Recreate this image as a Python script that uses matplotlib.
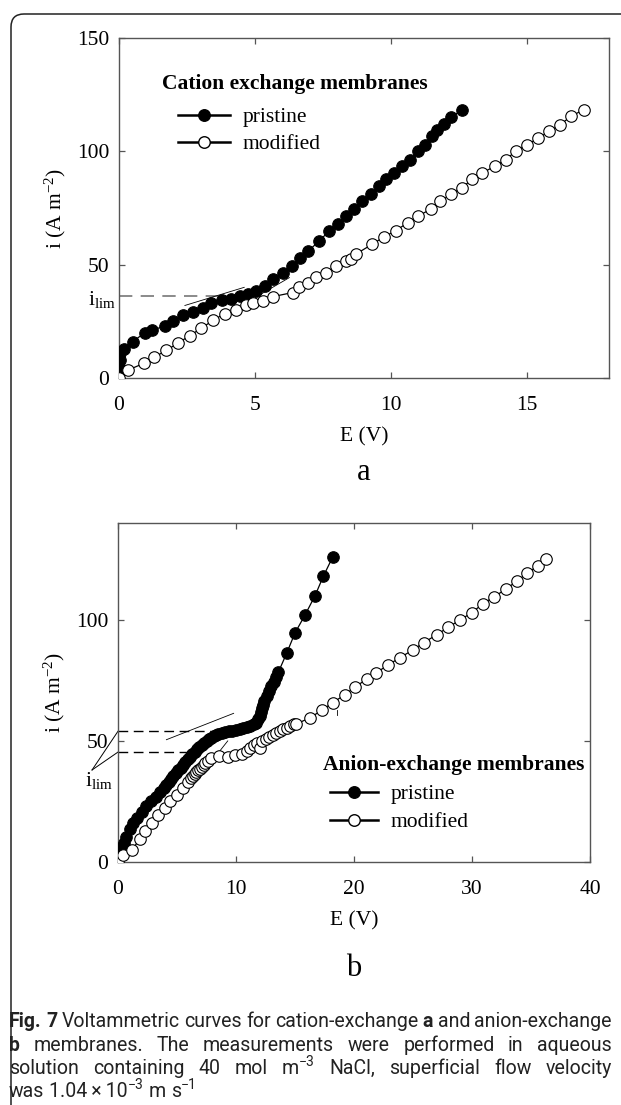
import matplotlib
matplotlib.use("Agg")
import matplotlib.pyplot as plt
from matplotlib.lines import Line2D
from matplotlib.patches import FancyBboxPatch
from matplotlib.transforms import IdentityTransform, blended_transform_factory

plt.rcParams['font.family'] = ['Liberation Serif', 'DejaVu Serif']
plt.rcParams['mathtext.fontset'] = 'custom'
plt.rcParams['mathtext.rm'] = 'Liberation Serif'
plt.rcParams['mathtext.it'] = 'Liberation Serif:italic'
plt.rcParams['mathtext.bf'] = 'Liberation Serif:bold'

# ---------------- data (panel a: cation exchange membranes) ----------------
cat_pristine_E = [0.0, 0.0, 0.02, 0.05, 0.2, 0.5, 0.95, 1.2, 1.7, 1.97, 2.35, 2.7, 3.08, 3.38,
                  3.77, 4.13, 4.43, 4.74, 5.05, 5.36, 5.67, 6.03, 6.34, 6.64, 6.95, 7.36, 7.73,
                  8.04, 8.35, 8.65, 8.94, 9.25, 9.55, 9.8, 10.1, 10.4, 10.7, 11.0, 11.25, 11.5,
                  11.7, 11.95, 12.2, 12.6]
cat_pristine_i = [2.0, 5.0, 8.0, 11.0, 13.0, 16.0, 20.0, 21.0, 23.0, 25.0, 27.6, 29.0, 31.0, 33.0,
                  34.2, 35.0, 36.0, 37.2, 38.6, 40.8, 43.8, 46.5, 49.5, 53.0, 56.0, 60.5, 65.0,
                  68.0, 71.5, 74.5, 78.0, 81.0, 84.6, 87.7, 90.5, 93.4, 96.3, 100.0, 103.0, 106.6,
                  109.6, 112.0, 115.0, 118.4]
cat_modified_E = [0.0, 0.33, 0.9, 1.3, 1.74, 2.17, 2.6, 3.03, 3.45, 3.88, 4.31, 4.68, 4.93, 5.28,
                  5.65, 6.38, 6.62, 6.93, 7.24, 7.6, 7.97, 8.35, 8.53, 8.72, 9.3, 9.74, 10.17,
                  10.6, 11.0, 11.45, 11.8, 12.2, 12.6, 12.97, 13.35, 13.8, 14.2, 14.57, 15.0,
                  15.4, 15.8, 16.2, 16.6, 17.07]
cat_modified_i = [0.0, 3.5, 6.4, 9.2, 12.2, 15.4, 18.7, 22.0, 25.4, 28.4, 29.8, 32.0, 33.0, 33.8,
                  35.9, 37.7, 40.0, 42.0, 44.4, 46.5, 49.5, 51.7, 52.7, 54.8, 59.0, 62.3, 65.0,
                  68.5, 71.5, 74.5, 78.0, 81.0, 84.0, 87.6, 90.5, 93.4, 96.3, 100.0, 103.0,
                  105.8, 108.8, 111.7, 115.4, 118.4]
cat_ilim = [36.1]

# ---------------- data (panel b: anion exchange membranes) ----------------
an_pristine_E = [0.0, 0.15, 0.3, 0.5, 0.7, 1.0, 1.3, 1.6, 2.0, 2.4, 2.8, 3.2, 3.6, 3.9, 4.1, 4.3,
                 4.5, 4.7, 4.9, 5.1, 5.3, 5.5, 5.7, 5.9, 6.1, 6.3, 6.5, 6.7, 6.9, 7.1, 7.3, 7.5,
                 7.7, 7.9, 8.1, 8.3, 8.5, 8.8, 9.1, 9.4, 9.7, 10.0, 10.3, 10.6, 10.9, 11.2, 11.5,
                 11.7, 11.9, 12.0, 12.1, 12.2, 12.3, 12.4, 12.6, 12.8, 13.0, 13.2, 13.4, 13.6,
                 14.3, 15.0, 15.85, 16.7, 17.4, 18.2]
an_pristine_i = [2.0, 4.0, 6.0, 8.0, 10.5, 13.5, 16.0, 18.0, 20.5, 23.0, 25.0, 27.0, 29.0, 30.5,
                 31.8, 33.0, 34.3, 35.5, 36.7, 37.8, 39.0, 40.2, 41.3, 42.4, 43.5, 44.5, 45.5,
                 46.5, 47.4, 48.3, 49.1, 49.9, 50.6, 51.3, 52.0, 52.4, 52.8, 53.2, 53.6, 54.0,
                 54.3, 54.7, 55.0, 55.4, 55.8, 56.3, 57.0, 57.6, 59.0, 60.5, 62.0, 63.5, 65.0,
                 66.5, 68.5, 70.5, 72.5, 74.5, 76.5, 78.5, 86.3, 94.6, 102.0, 110.0, 118.0, 126.0]
an_modified_E = [0.0, 0.45, 1.16, 1.86, 2.29, 2.85, 3.4, 3.97, 4.4, 4.97, 5.5, 5.9, 6.2, 6.35,
                 6.5, 6.65, 6.8, 6.95, 7.1, 7.25, 7.4, 7.6, 7.9, 8.6, 9.3, 9.9, 10.5, 10.9, 11.2,
                 11.5, 11.8, 12.0, 12.2, 12.5, 12.8, 13.1, 13.4, 13.7, 14.0, 14.3, 14.6, 14.9,
                 15.1, 16.3, 17.3, 18.2, 19.2, 20.1, 21.1, 21.9, 22.9, 23.9, 25.0, 25.9, 27.0,
                 28.0, 29.0, 30.0, 30.9, 31.9, 32.9, 33.8, 34.7, 35.6, 36.3]
an_modified_i = [0.5, 2.9, 5.0, 9.4, 12.9, 16.2, 19.4, 22.3, 25.0, 27.6, 30.7, 33.2, 34.6, 35.4,
                 36.2, 37.0, 37.8, 38.6, 39.4, 40.2, 41.0, 41.8, 42.8, 43.6, 43.4, 44.0, 44.8,
                 46.0, 47.2, 48.3, 49.0, 47.2, 50.0, 50.8, 51.6, 52.4, 53.2, 54.0, 54.8, 55.5,
                 56.2, 56.8, 57.0, 59.6, 62.8, 65.8, 69.0, 72.3, 75.6, 78.2, 81.4, 84.4, 87.6,
                 90.6, 93.8, 97.0, 100.0, 103.0, 106.6, 109.6, 112.8, 116.0, 119.4, 122.3, 125.2]
an_ilim = [54.0, 45.4]

series_labels = ['pristine', 'modified']
xticks_a = [0, 5, 10, 15]
yticks_a = [0, 50, 100, 150]
xticks_b = [0, 10, 20, 30, 40]
yticks_b = [0, 50, 100]

# ---------------- figure ----------------
W, H = 621, 1105
fig = plt.figure(figsize=(W / 100, H / 100), dpi=100)


def px_axes(l, t, r, b):
    return fig.add_axes([l / W, 1 - b / H, (r - l) / W, (b - t) / H])


ax1 = px_axes(119, 38, 609, 378)
ax2 = px_axes(118, 523, 590, 862)

FS = 15.5
SPINE = '#555555'
MS = 8.3


def style(ax):
    for s in ax.spines.values():
        s.set_color(SPINE)
        s.set_linewidth(1.0)
    ax.tick_params(direction='in', top=True, right=True, length=4, width=0.9,
                   color=SPINE, labelsize=FS)
    ax.tick_params(axis='x', pad=13)
    ax.tick_params(axis='y', pad=7)


def draw(ax, Ep, ip, Em, im):
    ax.plot(Ep, ip, '-', color='black', lw=0.9, marker='o', ms=MS, mfc='black',
            mec='black', mew=0.8, zorder=3)
    ax.plot(Em, im, '-', color='black', lw=0.9, marker='o', ms=MS, mfc='white',
            mec='black', mew=0.8, zorder=4)


handles = [Line2D([], [], color='black', lw=1.8, marker='o', ms=MS, mfc='black', mec='black'),
           Line2D([], [], color='black', lw=1.8, marker='o', ms=MS, mfc='white', mec='black')]

# ---- panel a ----
style(ax1)
draw(ax1, cat_pristine_E, cat_pristine_i, cat_modified_E, cat_modified_i)
ax1.set_xlim(0, 18)
ax1.set_ylim(0, 150)
ax1.set_xticks(xticks_a)
ax1.set_yticks(yticks_a)
ax1.set_xlabel('E (V)', fontsize=FS, labelpad=9)
ax1.set_ylabel(r'i (A m$^{-2}$)', fontsize=FS)
ax1.yaxis.set_label_coords(-0.105, 0.5)
ax1.plot([0, 5.15], [cat_ilim[0]] * 2, color='#777777', lw=1.2, dashes=(8, 5), zorder=2)
ax1.plot([2.42, 4.6], [32, 40], color='black', lw=0.6, zorder=2)
ax1.plot([5.0, 6.26], [35.5, 44.3], color='black', lw=0.6, zorder=2)
tr1 = blended_transform_factory(ax1.transAxes, ax1.transData)
ax1.text(-0.007, cat_ilim[0] - 1.5, r'i$_{\rm lim}$', transform=tr1, ha='right', va='center',
         fontsize=FS)
ax1.text(0.0878, 0.865, 'Cation exchange membranes', transform=ax1.transAxes, fontsize=FS,
         fontweight='bold', va='center', ha='left')
ax1.legend(handles, series_labels, loc='upper left', bbox_to_anchor=(0.1204, 0.797),
           frameon=False, borderpad=0, borderaxespad=0, handlelength=2.42,
           handletextpad=0.56, labelspacing=0.33, fontsize=FS)

# ---- panel b ----
style(ax2)
draw(ax2, an_pristine_E, an_pristine_i, an_modified_E, an_modified_i)
ax2.set_xlim(0, 40)
ax2.set_ylim(0, 140)
ax2.set_xticks(xticks_b)
ax2.set_yticks(yticks_b)
ax2.set_xlabel('E (V)', fontsize=FS, labelpad=9)
ax2.set_ylabel(r'i (A m$^{-2}$)', fontsize=FS)
ax2.yaxis.set_label_coords(-0.107, 0.5)
ax2.plot([0, 8.4], [an_ilim[0]] * 2, color='black', lw=1.0, dashes=(7, 4), zorder=2)
ax2.plot([0, 6.5], [an_ilim[1]] * 2, color='black', lw=1.0, dashes=(7, 4), zorder=2)
ax2.plot([4.1, 9.8], [50.5, 61.4], color='black', lw=0.6, zorder=2)
ax2.plot([7.6, 9.3], [39.5, 50.0], color='black', lw=0.6, zorder=2)
ax2.plot([18.6, 18.6], [60.8, 62.6], color='black', lw=0.6, zorder=2)
tr2 = blended_transform_factory(ax2.transAxes, ax2.transData)
ax2.plot([-0.055, 0.0], [38.0, an_ilim[0]], color='black', lw=0.7, transform=tr2, clip_on=False)
ax2.plot([-0.055, 0.0], [38.0, an_ilim[1]], color='black', lw=0.7, transform=tr2, clip_on=False)
ax2.text(-0.041, 38.0, r'i$_{\rm lim}$', transform=tr2, ha='center', va='top', fontsize=FS)
ax2.text(0.434, 0.286, 'Anion-exchange membranes', transform=ax2.transAxes, fontsize=FS,
         fontweight='bold', va='center', ha='left')
ax2.legend(handles, series_labels, loc='upper left', bbox_to_anchor=(0.449, 0.230),
           frameon=False, borderpad=0, borderaxespad=0, handlelength=2.23,
           handletextpad=0.6, labelspacing=0.37, fontsize=FS)

# ---- panel letters ----
fig.text(364 / W, 1 - 473 / H, 'a', fontsize=22, ha='center', va='center')
fig.text(354 / W, 1 - 968 / H, 'b', fontsize=22, ha='center', va='center')

# ---- frame ----
frame = FancyBboxPatch((11, -40), 700, H - 14 + 40, boxstyle='round,pad=0,rounding_size=13',
                       transform=IdentityTransform(), fill=False, ec='#222222', lw=1.1)
fig.add_artist(frame)

# ---- caption (justified) ----
CAPFONT = ['Roboto', 'DejaVu Sans']
cap_lines = [
    [[('Fig.', 'b')], [('7', 'b')], [('Voltammetric', 'n')], [('curves', 'n')], [('for', 'n')],
     [('cation-exchange', 'n')], [('a', 'b')], [('and', 'n')], [('anion-exchange', 'n')]],
    [[('b', 'b')], [('membranes.', 'n')], [('The', 'n')], [('measurements', 'n')], [('were', 'n')],
     [('performed', 'n')], [('in', 'n')], [('aqueous', 'n')]],
    [[('solution', 'n')], [('containing', 'n')], [('40', 'n')], [('mol', 'n')],
     [('m', 'n'), ('\u22123', 's')], [('NaCl,', 'n')], [('superficial', 'n')], [('flow', 'n')],
     [('velocity', 'n')]],
    [[('was', 'n')], [('1.04\u2009\u00d7\u200910', 'n'), ('\u22123', 's')], [('m', 'n')],
     [('s', 'n'), ('\u22121', 's')]],
]
justify = [True, True, True, False]
cap_x0, cap_x1 = 9, 612
baselines = [1027, 1051, 1074, 1097]

renderer = fig.canvas.get_renderer()


def make_text(x, y, s, st, fs):
    size = fs * 0.72 if st == 's' else fs
    return fig.text(x / W, 1 - y / H, s, fontsize=size, family=CAPFONT,
                    fontweight='bold' if st == 'b' else 'normal', va='baseline', ha='left',
                    color='#222222')


def seg_w(s, st, fs):
    t = make_text(0, 0, s, st, fs)
    w = t.get_window_extent(renderer).width
    t.remove()
    return w


def word_w(word, fs):
    return sum(seg_w(s, st, fs) for s, st in word)


# fit font size so line 1 spans the caption width
fs0 = 11.0
sp0 = seg_w('x x', 'n', fs0) - seg_w('xx', 'n', fs0)
w0 = sum(word_w(w, fs0) for w in cap_lines[0]) + sp0 * (len(cap_lines[0]) - 1)
CFS = fs0 * (cap_x1 - cap_x0) / w0
space = seg_w('x x', 'n', CFS) - seg_w('xx', 'n', CFS)

for words, just, yb in zip(cap_lines, justify, baselines):
    widths = [word_w(w, CFS) for w in words]
    if just:
        gap = (cap_x1 - cap_x0 - sum(widths)) / (len(words) - 1)
    else:
        gap = space
    x = cap_x0
    for word, ww in zip(words, widths):
        xx = x
        for s, st in word:
            yy = yb - CFS * 100 / 72 * 0.42 if st == 's' else yb
            make_text(xx, yy, s, st, CFS)
            xx += seg_w(s, st, CFS)
        x += ww + gap

fig.savefig('out.png', dpi=100)
